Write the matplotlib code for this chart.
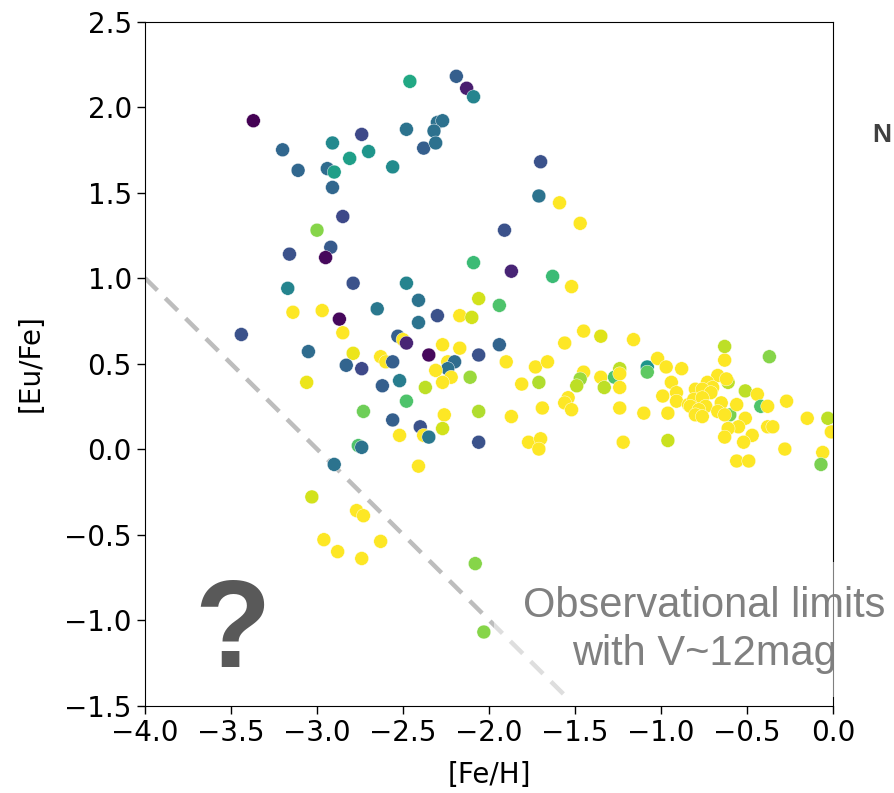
import numpy as np
import matplotlib
matplotlib.use("Agg")
import matplotlib.pyplot as plt
from matplotlib.collections import LineCollection
from matplotlib.patches import Rectangle

# star sample: [Fe/H], [Eu/Fe] and colour value (0..1 on viridis)
feh = [-3.37, -2.46, -3.20, -3.11, -2.91, -2.74, -2.70, -2.81, -2.94, -2.90,
       -2.91, -2.56, -2.48, -2.38, -2.85, -3.00, -2.92, -3.16, -2.95, -2.19,
       -2.13, -2.09, -2.30, -2.27, -2.32, -2.31, -1.70, -1.71, -1.59, -1.47,
       -1.91, -2.09, -1.87, -1.63, -1.52, -2.48, -2.41, -2.06, -1.94,
       -3.17, -2.79, -2.65, -3.14, -2.97, -2.87, -2.85, -2.41, -2.30, -2.17,
       -2.10, -3.44, -3.05, -2.79, -2.83, -2.74, -2.53, -2.50, -2.48, -2.63,
       -2.60, -2.56, -2.35, -2.27, -2.17, -2.24, -2.20, -2.24, -2.31, -2.22,
       -2.27, -2.11, -3.06, -2.62, -2.52, -2.37, -2.48, -2.73, -2.56, -2.26,
       -2.27, -2.52, -2.40, -2.38, -2.35, -2.76, -2.74, -2.90, -2.41, -2.06,
       -2.06, -2.06,
       -1.45, -1.35, -1.56, -1.16, -1.94, -1.90, -1.73, -1.66, -1.81, -1.71,
       -1.45, -1.47, -1.49, -1.35, -1.33, -1.27, -1.24, -1.24, -1.24, -1.08,
       -1.08, -1.02, -0.97, -0.88, -0.94, -0.91, -0.99, -0.91, -0.96, -0.84,
       -1.54, -1.56, -1.52, -1.24, -1.10, -1.69, -1.87, -1.77, -1.70, -1.71,
       -1.22, -0.96,
       -0.63, -0.63, -0.37, -0.67, -0.61, -0.62, -0.73, -0.70, -0.80, -0.76,
       -0.71, -0.81, -0.76, -0.74, -0.83, -0.78, -0.80, -0.76, -0.65, -0.67,
       -0.60, -0.63, -0.51, -0.44, -0.56, -0.42, -0.38, -0.27, -0.51, -0.55,
       -0.61, -0.63, -0.47, -0.52, -0.38, -0.35, -0.15, -0.03, -0.01, -0.28,
       -0.06, -0.07, -0.56, -0.49,
       -3.03, -2.77, -2.73, -2.96, -2.88, -2.74, -2.63, -2.08, -2.03]
eufe = [1.92, 2.15, 1.75, 1.63, 1.79, 1.84, 1.74, 1.70, 1.64, 1.62,
        1.53, 1.65, 1.87, 1.76, 1.36, 1.28, 1.18, 1.14, 1.12, 2.18,
        2.11, 2.06, 1.91, 1.92, 1.86, 1.79, 1.68, 1.48, 1.44, 1.32,
        1.28, 1.09, 1.04, 1.01, 0.95, 0.97, 0.87, 0.88, 0.84,
        0.94, 0.97, 0.82, 0.80, 0.81, 0.76, 0.68, 0.74, 0.78, 0.78,
        0.77, 0.67, 0.57, 0.56, 0.49, 0.47, 0.66, 0.64, 0.62, 0.54,
        0.51, 0.51, 0.55, 0.61, 0.59, 0.51, 0.51, 0.47, 0.46, 0.42,
        0.39, 0.42, 0.39, 0.37, 0.40, 0.36, 0.28, 0.22, 0.17, 0.20,
        0.12, 0.08, 0.13, 0.08, 0.07, 0.02, 0.01, -0.09, -0.10, 0.55,
        0.04, 0.22,
        0.69, 0.66, 0.62, 0.64, 0.61, 0.51, 0.48, 0.51, 0.38, 0.39,
        0.45, 0.41, 0.37, 0.42, 0.36, 0.42, 0.47, 0.44, 0.36, 0.48,
        0.45, 0.53, 0.48, 0.47, 0.39, 0.33, 0.31, 0.28, 0.21, 0.26,
        0.30, 0.27, 0.23, 0.24, 0.21, 0.24, 0.19, 0.04, 0.06, 0.00,
        0.04, 0.05,
        0.60, 0.52, 0.54, 0.43, 0.39, 0.41, 0.39, 0.36, 0.35, 0.35,
        0.33, 0.29, 0.30, 0.25, 0.25, 0.23, 0.20, 0.19, 0.27, 0.22,
        0.20, 0.20, 0.34, 0.32, 0.26, 0.25, 0.25, 0.28, 0.18, 0.13,
        0.12, 0.07, 0.08, 0.04, 0.13, 0.13, 0.18, 0.18, 0.10, 0.00,
        -0.02, -0.09, -0.07, -0.07,
        -0.28, -0.36, -0.39, -0.53, -0.60, -0.64, -0.54, -0.67, -1.07]
cval = [0.00, 0.60, 0.33, 0.33, 0.47, 0.22, 0.52, 0.56, 0.35, 0.56,
        0.33, 0.48, 0.38, 0.30, 0.22, 0.82, 0.28, 0.25, 0.02, 0.30,
        0.08, 0.45, 0.37, 0.37, 0.37, 0.37, 0.25, 0.38, 1.00, 1.00,
        0.25, 0.68, 0.10, 0.68, 1.00, 0.45, 0.38, 0.93, 0.72,
        0.45, 0.25, 0.40, 1.00, 1.00, 0.02, 1.00, 0.38, 0.25, 1.00,
        0.93, 0.25, 0.35, 0.97, 0.32, 0.22, 0.30, 1.00, 0.10, 1.00,
        1.00, 0.30, 0.02, 1.00, 1.00, 1.00, 0.35, 0.37, 1.00, 1.00,
        1.00, 0.85, 0.97, 0.30, 0.42, 0.90, 0.72, 0.78, 0.30, 1.00,
        0.93, 1.00, 0.25, 1.00, 0.40, 0.72, 0.38, 0.38, 1.00, 0.25,
        0.25, 0.88,
        1.00, 0.95, 1.00, 1.00, 0.32, 1.00, 1.00, 1.00, 1.00, 0.88,
        1.00, 0.85, 0.90, 1.00, 0.90, 0.72, 0.90, 1.00, 1.00, 0.52,
        0.75, 1.00, 1.00, 1.00, 1.00, 1.00, 1.00, 1.00, 1.00, 1.00,
        1.00, 1.00, 1.00, 1.00, 1.00, 1.00, 1.00, 1.00, 1.00, 1.00,
        1.00, 0.92,
        0.90, 1.00, 0.82, 1.00, 0.90, 1.00, 1.00, 1.00, 1.00, 1.00,
        1.00, 1.00, 1.00, 1.00, 1.00, 1.00, 1.00, 1.00, 1.00, 1.00,
        0.80, 1.00, 0.90, 1.00, 1.00, 0.72, 1.00, 1.00, 1.00, 1.00,
        1.00, 1.00, 1.00, 1.00, 1.00, 1.00, 1.00, 0.90, 1.00, 1.00,
        1.00, 0.80, 1.00, 1.00,
        0.93, 1.00, 1.00, 1.00, 1.00, 1.00, 1.00, 0.82, 0.82]

# observational limit line: [Eu/Fe] = -[Fe/H] - 3
limit_x = [-4.0, -1.55]

fig = plt.figure(figsize=(8.94, 7.93), dpi=100)
ax = fig.add_axes([0.1622, 0.1103, 0.7696, 0.8625])

# dashed limit line, drawn dash by dash
period = 0.118
segs = []
x0 = limit_x[0]
while x0 < limit_x[1]:
    x1 = min(x0 + 0.072, limit_x[1])
    segs.append([(x0, -x0 - 3), (x1, -x1 - 3)])
    x0 += period
lc = LineCollection(segs, colors='#bdbdbd', linewidths=3.2, capstyle='butt', zorder=1)
ax.add_collection(lc)

ax.scatter(feh, eufe, c=cval, cmap='viridis', vmin=0, vmax=1, s=100,
           edgecolors='white', linewidths=0.3, zorder=2)

ax.set_xlim(-4.0, 0.0)
ax.set_ylim(-1.5, 2.5)
ax.set_xticks(np.arange(-4.0, 0.01, 0.5))
ax.set_yticks(np.arange(-1.5, 2.51, 0.5))
ax.tick_params(labelsize=20, length=6, width=1)
ax.set_xlabel("[Fe/H]", fontsize=20, labelpad=10)
ax.set_ylabel("[Eu/Fe]", fontsize=20, labelpad=14)

# half transparent white box behind the label (it covers the spine and line end)
box = Rectangle((-1.97, -1.45), 2.5, 0.79, facecolor='white', alpha=0.5,
                edgecolor='none', clip_on=False, zorder=3)
ax.add_patch(box)
ax.text(-0.75, -1.06, "Observational limits\nwith V~12mag", fontsize=30,
        family='Liberation Sans', color='#808080', ha='center', va='center',
        linespacing=1.25, clip_on=False, zorder=4)

ax.text(-3.49, -1.275, "?", fontsize=90, family='Liberation Sans',
        fontweight='bold', color='#595959', ha='center', va='baseline')

# stray letter from the neighbouring slide content
fig.text(872 / 894.0, 1 - 142 / 793.0, "N", fontsize=19, family='Liberation Sans',
         fontweight='bold', color='#404040', ha='left', va='baseline')

fig.savefig("out.png", dpi=100)
